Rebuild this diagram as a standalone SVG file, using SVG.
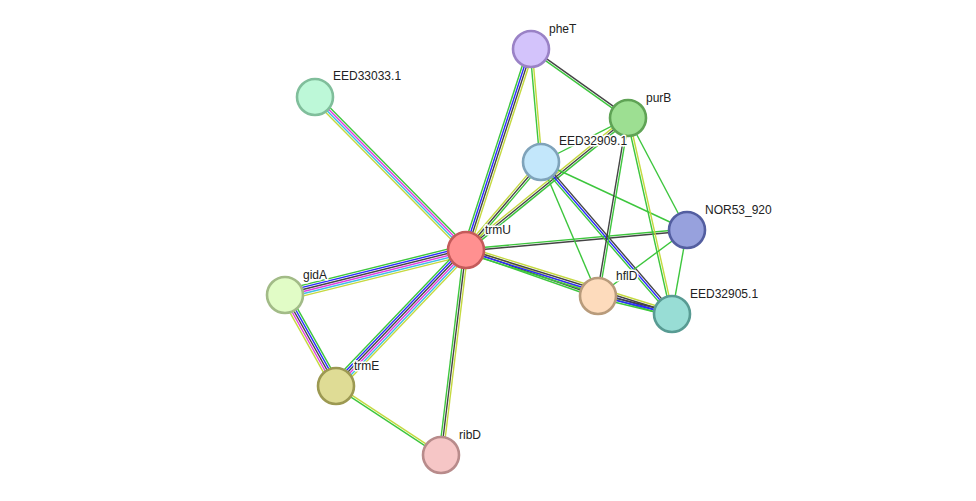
<svg xmlns="http://www.w3.org/2000/svg" width="976" height="501" viewBox="0 0 976 501">
<style>
line{stroke-width:1.4;fill:none}
.g{stroke:#3dc63d}.b{stroke:#2a2aff}.k{stroke:#444}.m{stroke:#e03ce0}.c{stroke:#3cbde6}.y{stroke:#c4d93f}
circle{stroke-width:2.6}
text{font-family:"Liberation Sans",Arial,sans-serif;font-size:12px;fill:#222;stroke:#fff;stroke-width:3px;paint-order:stroke;stroke-linejoin:round}
</style>
<rect width="976" height="501" fill="#fff"/>
<g id="edges">
<g transform="translate(466,250) rotate(-134.62)"><line class="g" x1="0" y1="3.15" x2="215" y2="3.15"/><line class="m" x1="0" y1="1.05" x2="215" y2="1.05"/><line class="c" x1="0" y1="-1.05" x2="215" y2="-1.05"/><line class="y" x1="0" y1="-3.15" x2="215" y2="-3.15"/></g>
<g transform="translate(466,250) rotate(166.04)"><line class="g" x1="0" y1="5.25" x2="186.5" y2="5.25"/><line class="b" x1="0" y1="3.15" x2="186.5" y2="3.15"/><line class="k" x1="0" y1="1.05" x2="186.5" y2="1.05"/><line class="m" x1="0" y1="-1.05" x2="186.5" y2="-1.05"/><line class="c" x1="0" y1="-3.15" x2="186.5" y2="-3.15"/><line class="y" x1="0" y1="-5.25" x2="186.5" y2="-5.25"/></g>
<g transform="translate(466,250) rotate(133.71)"><line class="g" x1="0" y1="5.25" x2="188.1" y2="5.25"/><line class="b" x1="0" y1="3.15" x2="188.1" y2="3.15"/><line class="k" x1="0" y1="1.05" x2="188.1" y2="1.05"/><line class="m" x1="0" y1="-1.05" x2="188.1" y2="-1.05"/><line class="c" x1="0" y1="-3.15" x2="188.1" y2="-3.15"/><line class="y" x1="0" y1="-5.25" x2="188.1" y2="-5.25"/></g>
<g transform="translate(285,295) rotate(60.74)"><line class="y" x1="0" y1="4.2" x2="104.3" y2="4.2"/><line class="m" x1="0" y1="2.1" x2="104.3" y2="2.1"/><line class="k" x1="0" y1="0" x2="104.3" y2="0"/><line class="b" x1="0" y1="-2.1" x2="104.3" y2="-2.1"/><line class="g" x1="0" y1="-4.2" x2="104.3" y2="-4.2"/></g>
<g transform="translate(466,250) rotate(96.95)"><line class="g" x1="0" y1="2.1" x2="206.5" y2="2.1"/><line class="k" x1="0" y1="0" x2="206.5" y2="0"/><line class="y" x1="0" y1="-2.1" x2="206.5" y2="-2.1"/></g>
<g transform="translate(336,386) rotate(33.31)"><line class="g" x1="0" y1="1.05" x2="125.6" y2="1.05"/><line class="y" x1="0" y1="-1.05" x2="125.6" y2="-1.05"/></g>
<g transform="translate(466,250) rotate(-72.08)"><line class="y" x1="0" y1="3.15" x2="211.2" y2="3.15"/><line class="k" x1="0" y1="1.05" x2="211.2" y2="1.05"/><line class="b" x1="0" y1="-1.05" x2="211.2" y2="-1.05"/><line class="g" x1="0" y1="-3.15" x2="211.2" y2="-3.15"/></g>
<g transform="translate(531,49) rotate(84.94)"><line class="g" x1="0" y1="1.05" x2="113.4" y2="1.05"/><line class="y" x1="0" y1="-1.05" x2="113.4" y2="-1.05"/></g>
<g transform="translate(531,49) rotate(35.42)"><line class="g" x1="0" y1="1.05" x2="119" y2="1.05"/><line class="k" x1="0" y1="-1.05" x2="119" y2="-1.05"/></g>
<g transform="translate(466,250) rotate(-49.56)"><line class="g" x1="0" y1="2.1" x2="115.6" y2="2.1"/><line class="k" x1="0" y1="0" x2="115.6" y2="0"/><line class="y" x1="0" y1="-2.1" x2="115.6" y2="-2.1"/></g>
<g transform="translate(466,250) rotate(-39.17)"><line class="g" x1="0" y1="2.1" x2="209" y2="2.1"/><line class="k" x1="0" y1="0" x2="209" y2="0"/><line class="y" x1="0" y1="-2.1" x2="209" y2="-2.1"/></g>
<g transform="translate(541,162) rotate(-26.83)"><line class="g" x1="0" y1="0" x2="97.5" y2="0"/></g>
<g transform="translate(466,250) rotate(-5.17)"><line class="k" x1="0" y1="1.05" x2="221.9" y2="1.05"/><line class="g" x1="0" y1="-1.05" x2="221.9" y2="-1.05"/></g>
<g transform="translate(466,250) rotate(19.21)"><line class="g" x1="0" y1="2.1" x2="139.8" y2="2.1"/><line class="k" x1="0" y1="0" x2="139.8" y2="0"/><line class="y" x1="0" y1="-2.1" x2="139.8" y2="-2.1"/></g>
<g transform="translate(466,250) rotate(17.26)"><line class="g" x1="0" y1="3.15" x2="215.7" y2="3.15"/><line class="b" x1="0" y1="1.05" x2="215.7" y2="1.05"/><line class="k" x1="0" y1="-1.05" x2="215.7" y2="-1.05"/><line class="y" x1="0" y1="-3.15" x2="215.7" y2="-3.15"/></g>
<g transform="translate(541,162) rotate(49.24)"><line class="g" x1="0" y1="2.1" x2="200.7" y2="2.1"/><line class="b" x1="0" y1="0" x2="200.7" y2="0"/><line class="k" x1="0" y1="-2.1" x2="200.7" y2="-2.1"/></g>
<g transform="translate(541,162) rotate(24.97)"><line class="g" x1="0" y1="0" x2="161.1" y2="0"/></g>
<g transform="translate(541,162) rotate(66.96)"><line class="g" x1="0" y1="0" x2="145.6" y2="0"/></g>
<g transform="translate(628,118) rotate(62.22)"><line class="g" x1="0" y1="0" x2="126.6" y2="0"/></g>
<g transform="translate(628,118) rotate(77.35)"><line class="g" x1="0" y1="1.05" x2="200.9" y2="1.05"/><line class="y" x1="0" y1="-1.05" x2="200.9" y2="-1.05"/></g>
<g transform="translate(628,118) rotate(99.57)"><line class="k" x1="0" y1="1.05" x2="180.5" y2="1.05"/><line class="g" x1="0" y1="-1.05" x2="180.5" y2="-1.05"/></g>
<g transform="translate(687,230) rotate(143.44)"><line class="g" x1="0" y1="0" x2="110.8" y2="0"/></g>
<g transform="translate(687,230) rotate(100.12)"><line class="g" x1="0" y1="0" x2="85.3" y2="0"/></g>
<g transform="translate(598,296) rotate(13.67)"><line class="g" x1="0" y1="2.1" x2="76.2" y2="2.1"/><line class="b" x1="0" y1="0" x2="76.2" y2="0"/><line class="k" x1="0" y1="-2.1" x2="76.2" y2="-2.1"/></g>
</g>
<g id="trmU"><circle cx="466" cy="250" r="18" fill="#ff9090" stroke="#c55a5a"/><text x="485" y="234">trmU</text></g>
<g id="pheT"><circle cx="531" cy="49" r="18" fill="#d3c3fb" stroke="#9a82c6"/><text x="549" y="33">pheT</text></g>
<g id="purB"><circle cx="628" cy="118" r="18" fill="#9ddf92" stroke="#5fa355"/><text x="646" y="102">purB</text></g>
<g id="EED32909.1"><circle cx="541" cy="162" r="18" fill="#c3e7fb" stroke="#7fa3ba"/><text x="559" y="145">EED32909.1</text></g>
<g id="NOR53_920"><circle cx="687" cy="230" r="18" fill="#97a1dd" stroke="#535ea0"/><text x="705" y="214">NOR53_920</text></g>
<g id="EED32905.1"><circle cx="672" cy="314" r="18" fill="#98ddd5" stroke="#589b93"/><text x="690" y="298">EED32905.1</text></g>
<g id="hflD"><circle cx="598" cy="296" r="18" fill="#fddbbc" stroke="#b89b7b"/><text x="616" y="280">hflD</text></g>
<g id="EED33033.1"><circle cx="315" cy="97" r="18" fill="#bdf8d8" stroke="#80be9b"/><text x="333" y="80">EED33033.1</text></g>
<g id="gidA"><circle cx="285" cy="295" r="18" fill="#e1fcc6" stroke="#a2bb87"/><text x="303" y="279">gidA</text></g>
<g id="trmE"><circle cx="336" cy="386" r="18" fill="#dfdc95" stroke="#9c9952"/><text x="354" y="370">trmE</text></g>
<g id="ribD"><circle cx="441" cy="455" r="18" fill="#f6c6c6" stroke="#b88b8b"/><text x="459" y="439">ribD</text></g>
</svg>
